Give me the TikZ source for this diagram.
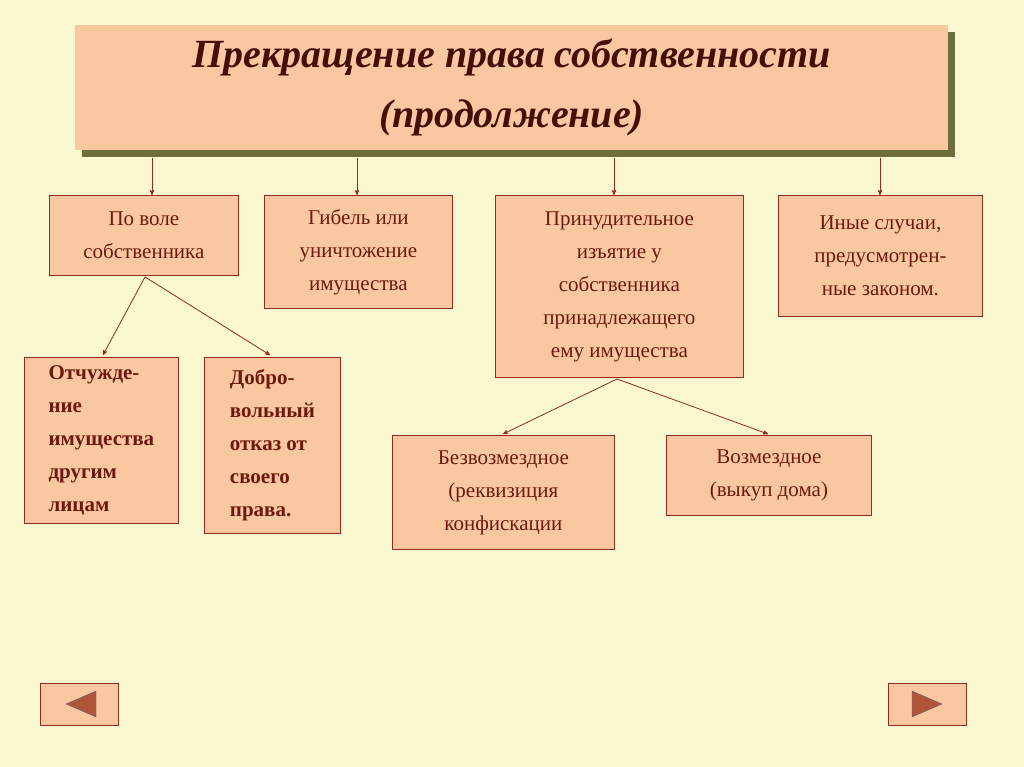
\documentclass[tikz,border=0pt]{standalone}
\usepackage{fontspec}
\setmainfont{Liberation Serif}
\usetikzlibrary{arrows}
\definecolor{bgyellow}{RGB}{250,248,208}
\definecolor{peach}{RGB}{250,200,160}
\definecolor{edgered}{RGB}{150,40,30}
\definecolor{textred}{RGB}{110,25,15}
\definecolor{shadowolive}{RGB}{110,110,60}
\definecolor{navbrown}{RGB}{175,85,60}
\tikzset{
  box/.style={draw=edgered,fill=peach,thick,text=textred,align=center,
              inner sep=0pt,font=\fontsize{21}{33}\selectfont},
  boldbox/.style={box,align=left,font=\fontsize{21}{33}\selectfont\bfseries},
  link/.style={->,>=stealth',draw=edgered,thick}
}
\begin{document}
\begin{tikzpicture}[x=1pt,y=-1pt]
  \fill[bgyellow] (0,0) rectangle (1024,767);
  % title
  \fill[shadowolive] (82,32) rectangle (955,157);
  \node[fill=peach,minimum width=873pt,minimum height=125pt,inner sep=0pt,anchor=north west]
    (title) at (75,25) {};
  \node[text=textred!60!black,align=center,font=\fontsize{40}{60}\selectfont\bfseries\itshape]
    at (title.center) {Прекращение права собственности\\(продолжение)};
  \foreach \x/\n in {152/a,357/b,614/c,880/d}
    \coordinate (t\n) at (\x,158);
  % boxes
  \node[box,anchor=north west,minimum width=189pt,minimum height=80pt] (will) at (49,195)
    {По воле\\собственника};
  \node[box,anchor=north west,minimum width=188pt,minimum height=113pt] (loss) at (264,195)
    {Гибель или\\уничтожение\\имущества};
  \node[box,anchor=north west,minimum width=248pt,minimum height=182pt] (seize) at (495,195)
    {Принудительное\\изъятие у\\собственника\\принадлежащего\\ему имущества};
  \node[box,anchor=north west,minimum width=204pt,minimum height=121pt] (other) at (778,195)
    {Иные случаи,\\предусмотрен-\\ные законом.};
  \node[boldbox,anchor=north west,minimum width=154pt,minimum height=166pt] (alien) at (24,357)
    {Отчужде-\\ние\\имущества\\другим\\лицам};
  \node[boldbox,anchor=north west,minimum width=136pt,minimum height=176pt] (refuse) at (204,357)
    {Добро-\\вольный\\отказ от\\своего\\права.};
  \node[box,anchor=north west,minimum width=222pt,minimum height=114pt] (free) at (392,435)
    {Безвозмездное\\(реквизиция\\конфискации};
  \node[box,anchor=north west,minimum width=205pt,minimum height=80pt] (paid) at (666,435)
    {Возмездное\\(выкуп дома)};
  % arrows
  \draw[link] (ta) -- (will.north -| ta);
  \draw[link] (tb) -- (loss.north -| tb);
  \draw[link] (tc) -- (seize.north -| tc);
  \draw[link] (td) -- (other.north -| td);
  \coordinate (wf) at (145,277);
  \draw[link] (wf) -- (103,355);
  \draw[link] (wf) -- (270,355);
  \coordinate (sf) at (617,379);
  \draw[link] (sf) -- (503,434);
  \draw[link] (sf) -- (768,434);
  % navigation
  \node[draw=edgered,fill=peach,thick,minimum width=78pt,minimum height=42pt,anchor=north west]
    (prev) at (40,683) {};
  \fill[navbrown,draw=black!60] (66,704) -- (96,691) -- (96,717) -- cycle;
  \node[draw=edgered,fill=peach,thick,minimum width=78pt,minimum height=42pt,anchor=north west]
    (next) at (888,683) {};
  \fill[navbrown,draw=black!60] (942,704) -- (912,691) -- (912,717) -- cycle;
\end{tikzpicture}
\end{document}
